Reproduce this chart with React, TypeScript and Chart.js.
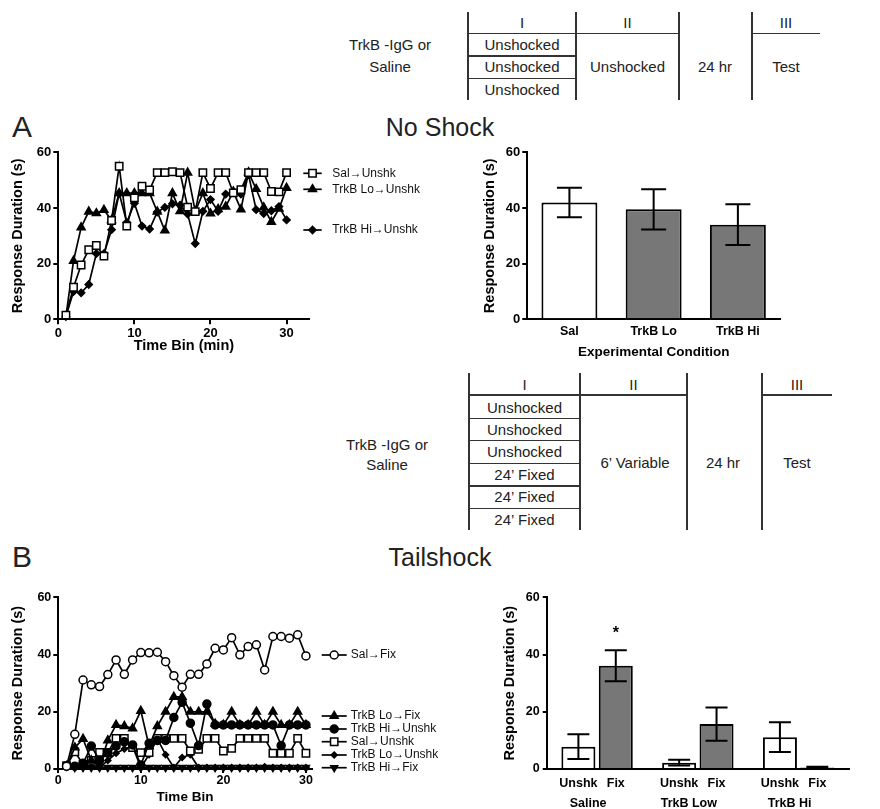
import React, { useEffect, useRef } from 'react';
import { Chart, registerables } from 'chart.js';
import { drawPoint } from 'chart.js/helpers';

Chart.register(...registerables);

const FONT = "'Liberation Sans', Arial, Helvetica, sans-serif";
const GRAY = '#777777';

// ---------- Panel A: line data (No Shock) ----------
const timeBins = [1, 2, 3, 4, 5, 6, 7, 8, 9, 10, 11, 12, 13, 14, 15, 16, 17, 18, 19, 20, 21, 22, 23, 24, 25, 26, 27, 28, 29, 30];
const salUnshkA = [1.5, 11.5, 19.5, 25, 26.5, 22.7, 35.5, 55, 33.5, 43.6, 47.8, 46.5, 52.7, 52.7, 53, 52.7, 40.3, 38.7, 52.7, 47, 52.7, 52.7, 45.4, 46.6, 52.7, 52.7, 52.7, 45.9, 45.8, 52.7];
const trkLoUnshkA = [1, 21, 33, 38.7, 38.1, 39.3, 35.6, 45.3, 45.3, 45.3, 45.3, 45.3, 38.7, 31.9, 45.3, 38.8, 52.7, 38.8, 45.3, 38, 39.6, 40.5, 45.9, 39.5, 52.8, 46.8, 40.2, 35, 39.7, 47.2];
const trkHiUnshkA = [1, 10, 9.5, 12.5, 23.6, 23.6, 32.2, 45.3, 34.8, 41.7, 33.5, 32.4, 38.5, 40.2, 41.5, 41, 37.8, 27.2, 38.8, 43, 38.8, 45, 45.5, 45, 52, 39.4, 38, 39, 40.5, 35.7];

// ---------- Panel A: bar data ----------
const conditionsA = ['Sal', 'TrkB Lo', 'TrkB Hi'];
const meanA = [42, 39.5, 34];
const semA = [5.3, 7.2, 7.3];

// ---------- Panel B: line data (Tailshock) ----------
const salFixB = [1, 12.1, 31.1, 29.4, 28.8, 33, 38.1, 33.1, 38.1, 40.7, 40.6, 40.8, 37.5, 32.6, 28.6, 33.1, 33.1, 36.7, 42.2, 41.6, 45.9, 39.9, 42.8, 43.4, 34.6, 46.3, 46.3, 45.7, 46.9, 39.5];
const trkLoFixB = [1, 7.5, 10.5, 3, 1, 10, 15.4, 15, 14.2, 20.3, 8, 15, 20, 25.2, 25.2, 20, 20, 20, 15.8, 15.4, 20, 15.4, 15.4, 20, 15.4, 20, 15.4, 15.4, 20, 15.4];
const trkHiUnshkB = [1, 1, 2, 8, 3, 5.5, 8, 9.5, 8.4, 1.4, 9, 10, 10, 18, 23.3, 16, 8.2, 22.7, 15.4, 15.4, 15.4, 15.4, 15.4, 15.4, 15.4, 15.4, 8.2, 15.4, 15.4, 15.4];
const salUnshkB = [1.2, 6, 1.7, 3, 5.8, 5.8, 10.7, 10.7, 7.5, 5.7, 5.7, 10.7, 10.7, 10.7, 10.7, 6.3, 6.9, 10.7, 10.7, 6.3, 7.2, 10.7, 10.7, 10.7, 10.7, 5.5, 5.5, 5.5, 10.7, 5.5];
const trkLoUnshkB = [1, 1, 1, 0.8, 0.5, 3, 5.5, 7, 8, 0.5, 5, 10.5, 5, 0.5, 4, 5, 0.5, 0.5, 0.5, 0.5, 0.5, 0.5, 0.5, 0.5, 0.8, 0.5, 0.5, 0.5, 0.5, 0.5];
const trkHiFixB = [1, 0.5, 0.5, 0.5, 0.5, 0.5, 0.5, 0.5, 0.5, 0.5, 0.5, 0.5, 0.5, 0.5, 0.5, 0.5, 0.5, 0.5, 0.5, 0.5, 0.5, 0.5, 0.5, 0.5, 0.5, 0.5, 0.5, 0.5, 0.5, 0.5];

// ---------- Panel B: bar data ----------
const groupsB = ['Saline', 'TrkB Low', 'TrkB Hi'];
const seriesB = ['Unshk', 'Fix'];
const unshkMeanB = [7.8, 2.2, 11.1];
const unshkSemB = [4.3, 1.0, 5.2];
const fixMeanB = [36.1, 15.7, 0.5];
const fixSemB = [5.4, 5.8, 0.3];
const sigStarB = { group: 0, series: 1, value: 48.6 };

const yTicks = [0, 20, 40, 60];

// ---------- plugins ----------
const lineLegendPlugin = {
  id: 'lineLegend',
  afterDraw(chart: any, _a: any, opts: any) {
    const ctx = chart.ctx;
    ctx.save();
    chart.data.datasets.forEach((ds: any, i: number) => {
      const y = opts.ys[i];
      const x0 = opts.x0;
      const x1 = opts.x0 + opts.lineLen;
      ctx.strokeStyle = '#000';
      ctx.lineWidth = 1.7;
      ctx.beginPath();
      ctx.moveTo(x0, y);
      ctx.lineTo(x1, y);
      ctx.stroke();
      ctx.fillStyle = ds.pointBackgroundColor;
      ctx.strokeStyle = '#000';
      ctx.lineWidth = 1.5;
      drawPoint(ctx, { pointStyle: ds.pointStyle, rotation: ds.pointRotation || 0, radius: ds.pointRadius, borderWidth: 1.5 } as any, (x0 + x1) / 2, y);
      ctx.fillStyle = '#111';
      ctx.font = `${opts.fontSize}px ${FONT}`;
      ctx.textBaseline = 'middle';
      ctx.textAlign = 'left';
      ctx.fillText(ds.label, opts.textX, y);
    });
    ctx.restore();
  },
};

const errorBarPlugin = {
  id: 'errorBars',
  afterDatasetsDraw(chart: any, _a: any, opts: any) {
    const ctx = chart.ctx;
    const yScale = chart.scales.y;
    ctx.save();
    ctx.strokeStyle = '#000';
    ctx.lineWidth = 2;
    chart.data.datasets.forEach((ds: any, di: number) => {
      const meta = chart.getDatasetMeta(di);
      meta.data.forEach((bar: any, i: number) => {
        const m = ds.data[i];
        const e = ds.errors[i];
        const x = bar.x;
        const yTop = yScale.getPixelForValue(m + e);
        const yBot = yScale.getPixelForValue(m - e);
        const hw = opts.capWidth / 2;
        ctx.beginPath();
        ctx.moveTo(x, yTop);
        ctx.lineTo(x, yBot);
        ctx.moveTo(x - hw, yTop);
        ctx.lineTo(x + hw, yTop);
        ctx.moveTo(x - hw, yBot);
        ctx.lineTo(x + hw, yBot);
        ctx.stroke();
      });
    });
    ctx.restore();
  },
};

const groupLabelPlugin = {
  id: 'groupLabels',
  afterDraw(chart: any, _a: any, opts: any) {
    const ctx = chart.ctx;
    const xs = chart.scales.x;
    const bottom = chart.chartArea.bottom;
    ctx.save();
    ctx.fillStyle = '#000';
    ctx.font = `bold 12.5px ${FONT}`;
    ctx.textAlign = 'center';
    ctx.textBaseline = 'middle';
    chart.data.datasets.forEach((ds: any, di: number) => {
      chart.getDatasetMeta(di).data.forEach((bar: any) => ctx.fillText(ds.label, bar.x, bottom + opts.subOffset));
    });
    chart.data.labels.forEach((lab: string, i: number) => ctx.fillText(lab, xs.getPixelForValue(i) + opts.groupShift, bottom + opts.groupOffset));
    const star = opts.star;
    const bar = chart.getDatasetMeta(star.series).data[star.group];
    ctx.font = `bold 16px ${FONT}`;
    ctx.fillText('*', bar.x, chart.scales.y.getPixelForValue(star.value) + 4);
    ctx.restore();
  },
};

// ---------- axis helpers ----------
function yAxis(width: number, tickLen: number, pad: number, tickSize: number) {
  return {
    min: 0,
    max: 60,
    afterBuildTicks: (s: any) => { s.ticks = yTicks.map((v) => ({ value: v })); },
    ticks: { color: '#000', font: { family: FONT, size: tickSize, weight: 'bold' }, padding: pad },
    grid: { display: true, drawOnChartArea: false, drawTicks: true, tickLength: tickLen, color: '#000', lineWidth: 2 },
    border: { display: true, color: '#000', width: 2 },
    title: { display: true, text: 'Response Duration (s)', color: '#000', font: { family: FONT, size: 14.5, weight: 'bold' }, padding: { top: 9.3, bottom: 0 } },
    afterFit: (s: any) => { s.width = width; },
  };
}

function linearX(max: number, height: number, title: string, titleSize: number, titlePadBottom: number, tickLen: number, pad: number, tickSize: number) {
  return {
    type: 'linear',
    min: 0,
    max,
    ticks: { stepSize: 10, includeBounds: false, color: '#000', font: { family: FONT, size: tickSize, weight: 'bold' }, padding: pad },
    grid: { display: true, drawOnChartArea: false, drawTicks: true, tickLength: tickLen, color: '#000', lineWidth: 2 },
    border: { display: true, color: '#000', width: 2 },
    title: { display: true, text: title, color: '#000', font: { family: FONT, size: titleSize, weight: 'bold' }, padding: { top: 0, bottom: titlePadBottom } },
    afterFit: (s: any) => { s.height = height; },
  };
}

function lineDs(label: string, values: number[], style: string, radius: number, fill: string, rotation = 0) {
  return {
    label,
    data: values.map((v, i) => ({ x: timeBins[i], y: v })),
    borderColor: '#000',
    borderWidth: 1.7,
    pointStyle: style,
    pointRadius: radius,
    pointRotation: rotation,
    pointBackgroundColor: fill,
    pointBorderColor: '#000',
    pointBorderWidth: 1.5,
    tension: 0,
    clip: false,
  };
}

// ---------- generic canvas ----------
function ChartBox(props: { left: number; top: number; width: number; height: number; make: () => any }) {
  const ref = useRef<HTMLCanvasElement>(null);
  useEffect(() => {
    const chart = new Chart(ref.current as HTMLCanvasElement, props.make());
    return () => chart.destroy();
  }, []);
  return (
    <div style={{ position: 'absolute', left: props.left, top: props.top, width: props.width, height: props.height }}>
      <canvas ref={ref} width={props.width} height={props.height} style={{ width: props.width, height: props.height, display: 'block' }} />
    </div>
  );
}

const chartA1 = () => ({
  type: 'line',
  data: {
    datasets: [
      lineDs('Sal\u2192Unshk', salUnshkA, 'rect', 5.2, '#fff'),
      lineDs('TrkB Lo\u2192Unshk', trkLoUnshkA, 'triangle', 4.6, '#000'),
      lineDs('TrkB Hi\u2192Unshk', trkHiUnshkA, 'rectRot', 3.6, '#000'),
    ],
  },
  options: {
    responsive: false,
    animation: false,
    layout: { padding: { left: 0, top: 12.3, right: 120.6, bottom: 0 } },
    scales: {
      x: linearX(33, 40.7, 'Time Bin (min)', 14.5, 5, 5, 1, 13),
      y: yAxis(58.3, 5, 2, 13),
    },
    plugins: {
      legend: { display: false },
      tooltip: { enabled: false },
      lineLegend: { x0: 303.3, lineLen: 18.4, textX: 332.3, ys: [33.3, 49.3, 90], fontSize: 12 },
    },
  },
  plugins: [lineLegendPlugin],
});

const chartA2 = () => ({
  type: 'bar',
  data: {
    labels: conditionsA,
    datasets: [
      {
        label: 'A',
        data: meanA,
        errors: semA,
        backgroundColor: ['#fff', GRAY, GRAY],
        borderColor: '#000',
        borderWidth: 2,
        categoryPercentage: 1,
        barPercentage: 0.664,
      },
    ],
  },
  options: {
    responsive: false,
    animation: false,
    layout: { padding: { left: 32, top: 12.3, right: 100, bottom: 0 } },
    scales: {
      x: {
        type: 'category',
        ticks: { color: '#000', font: { family: FONT, size: 12.5, weight: 'bold' }, padding: 5 },
        grid: { display: false, drawTicks: false },
        border: { display: true, color: '#000', width: 2 },
        title: { display: true, text: 'Experimental Condition', color: '#000', font: { family: FONT, size: 13.5, weight: 'bold' }, padding: { top: 0, bottom: 4.5 } },
        afterFit: (s: any) => { s.height = 45.7; },
      },
      y: yAxis(55.3, 5, 2, 13),
    },
    plugins: { legend: { display: false }, tooltip: { enabled: false }, errorBars: { capWidth: 25 } },
  },
  plugins: [errorBarPlugin],
});

const chartB1 = () => ({
  type: 'line',
  data: {
    datasets: [
      lineDs('Sal\u2192Fix', salFixB, 'circle', 4, '#fff'),
      lineDs('TrkB Lo\u2192Fix', trkLoFixB, 'triangle', 4.6, '#000'),
      lineDs('TrkB Hi\u2192Unshk', trkHiUnshkB, 'circle', 4, '#000'),
      lineDs('Sal\u2192Unshk', salUnshkB, 'rect', 5.2, '#fff'),
      lineDs('TrkB Lo\u2192Unshk', trkLoUnshkB, 'rectRot', 3, '#000'),
      lineDs('TrkB Hi\u2192Fix', trkHiFixB, 'triangle', 4, '#000', 180),
    ],
  },
  options: {
    responsive: false,
    animation: false,
    layout: { padding: { left: 0, top: 12.3, right: 148.3, bottom: 0 } },
    scales: {
      x: linearX(30.7, 40, 'Time Bin', 13.5, 3.5, 4, 0, 12.5),
      y: yAxis(58.3, 5, 2, 12.5),
    },
    plugins: {
      legend: { display: false },
      tooltip: { enabled: false },
      lineLegend: { x0: 321.7, lineLen: 25, textX: 350.7, ys: [70, 131, 144, 156.7, 170, 182.7], fontSize: 12 },
    },
  },
  plugins: [lineLegendPlugin],
});

const chartB2 = () => ({
  type: 'bar',
  data: {
    labels: groupsB,
    datasets: [
      {
        label: seriesB[0],
        data: unshkMeanB,
        errors: unshkSemB,
        backgroundColor: '#fff',
        borderColor: '#000',
        borderWidth: 2,
        categoryPercentage: 0.742,
        barPercentage: 0.91,
      },
      {
        label: seriesB[1],
        data: fixMeanB,
        errors: fixSemB,
        backgroundColor: GRAY,
        borderColor: '#000',
        borderWidth: 2,
        categoryPercentage: 0.742,
        barPercentage: 0.91,
      },
    ],
  },
  options: {
    responsive: false,
    animation: false,
    layout: { padding: { left: 32, top: 12.3, right: 31, bottom: 0 } },
    scales: {
      x: {
        type: 'category',
        ticks: { display: false },
        grid: { display: false, drawTicks: false },
        border: { display: true, color: '#000', width: 2 },
        afterFit: (s: any) => { s.height = 40; },
      },
      y: yAxis(54.7, 4, 3, 12.5),
    },
    plugins: {
      legend: { display: false },
      tooltip: { enabled: false },
      errorBars: { capWidth: 22 },
      groupLabels: { subOffset: 15, groupOffset: 34.3, groupShift: -9, star: sigStarB },
    },
  },
  plugins: [errorBarPlugin, groupLabelPlugin],
});

// ---------- schematic tables ----------
const LINE = '#333';
function HLine({ x1, x2, y }: { x1: number; x2: number; y: number }) {
  return <div style={{ position: 'absolute', left: x1, top: y - 0.75, width: x2 - x1, height: 1.5, background: LINE }} />;
}
function VLine({ x, y1, y2 }: { x: number; y1: number; y2: number }) {
  return <div style={{ position: 'absolute', left: x - 0.75, top: y1, width: 1.5, height: y2 - y1, background: LINE }} />;
}
function Txt({ x, y, size = 15, children }: { x: number; y: number; size?: number; children: any }) {
  return (
    <div style={{ position: 'absolute', left: x, top: y, transform: 'translate(-50%, -50%)', fontSize: size, lineHeight: 1.15, whiteSpace: 'nowrap', color: '#222' }}>
      {children}
    </div>
  );
}

const tableTopRows = ['Unshocked', 'Unshocked', 'Unshocked'];
const tableBottomRows = ['Unshocked', 'Unshocked', 'Unshocked', '24\u2019 Fixed', '24\u2019 Fixed', '24\u2019 Fixed'];

function TopTable() {
  const rowY = [45, 67, 90];
  return (
    <>
      {[468, 576, 679, 752].map((x) => <VLine key={x} x={x} y1={12} y2={100} />)}
      <HLine x1={468} x2={679} y={33.3} />
      <HLine x1={752} x2={820} y={33.3} />
      <HLine x1={468} x2={576} y={56} />
      <HLine x1={468} x2={576} y={78.3} />
      <Txt x={522} y={23}>I</Txt>
      <Txt x={627.5} y={23}>II</Txt>
      <Txt x={786} y={23}>III</Txt>
      {tableTopRows.map((t, i) => <Txt key={i} x={522} y={rowY[i]}>{t}</Txt>)}
      <Txt x={627.5} y={67}>Unshocked</Txt>
      <Txt x={715} y={67}>24 hr</Txt>
      <Txt x={786} y={67}>Test</Txt>
      <Txt x={390} y={45}>TrkB -IgG or</Txt>
      <Txt x={390} y={67}>Saline</Txt>
    </>
  );
}

function BottomTable() {
  const rowY = [408, 430, 452, 475, 497, 520];
  return (
    <>
      {[469, 580, 687, 762].map((x) => <VLine key={x} x={x} y1={373} y2={530} />)}
      <HLine x1={469} x2={687} y={395} />
      <HLine x1={762} x2={832} y={395} />
      {[418.3, 440.7, 463.3, 486, 508.3].map((y) => <HLine key={y} x1={469} x2={580} y={y} />)}
      <Txt x={524.5} y={385}>I</Txt>
      <Txt x={633.5} y={385}>II</Txt>
      <Txt x={797} y={385}>III</Txt>
      {tableBottomRows.map((t, i) => <Txt key={i} x={524.5} y={rowY[i]}>{t}</Txt>)}
      <Txt x={635} y={463}>6{'\u2019'} Variable</Txt>
      <Txt x={723} y={463}>24 hr</Txt>
      <Txt x={797} y={463}>Test</Txt>
      <Txt x={387} y={445}>TrkB -IgG or</Txt>
      <Txt x={387} y={465}>Saline</Txt>
    </>
  );
}

export default function App() {
  return (
    <div style={{ position: 'absolute', left: 0, top: 0, width: 880, height: 809, background: '#fff', fontFamily: FONT, overflow: 'hidden' }}>
      <TopTable />
      <Txt x={22} y={127} size={30}>A</Txt>
      <Txt x={440} y={127} size={25}>No Shock</Txt>
      <ChartBox left={0} top={140} width={430} height={220} make={chartA1} />
      <ChartBox left={440} top={140} width={440} height={225} make={chartA2} />
      <BottomTable />
      <Txt x={22} y={557} size={30}>B</Txt>
      <Txt x={440} y={557} size={25}>Tailshock</Txt>
      <ChartBox left={0} top={585} width={460} height={224} make={chartB1} />
      <ChartBox left={460} top={585} width={420} height={224} make={chartB2} />
    </div>
  );
}
